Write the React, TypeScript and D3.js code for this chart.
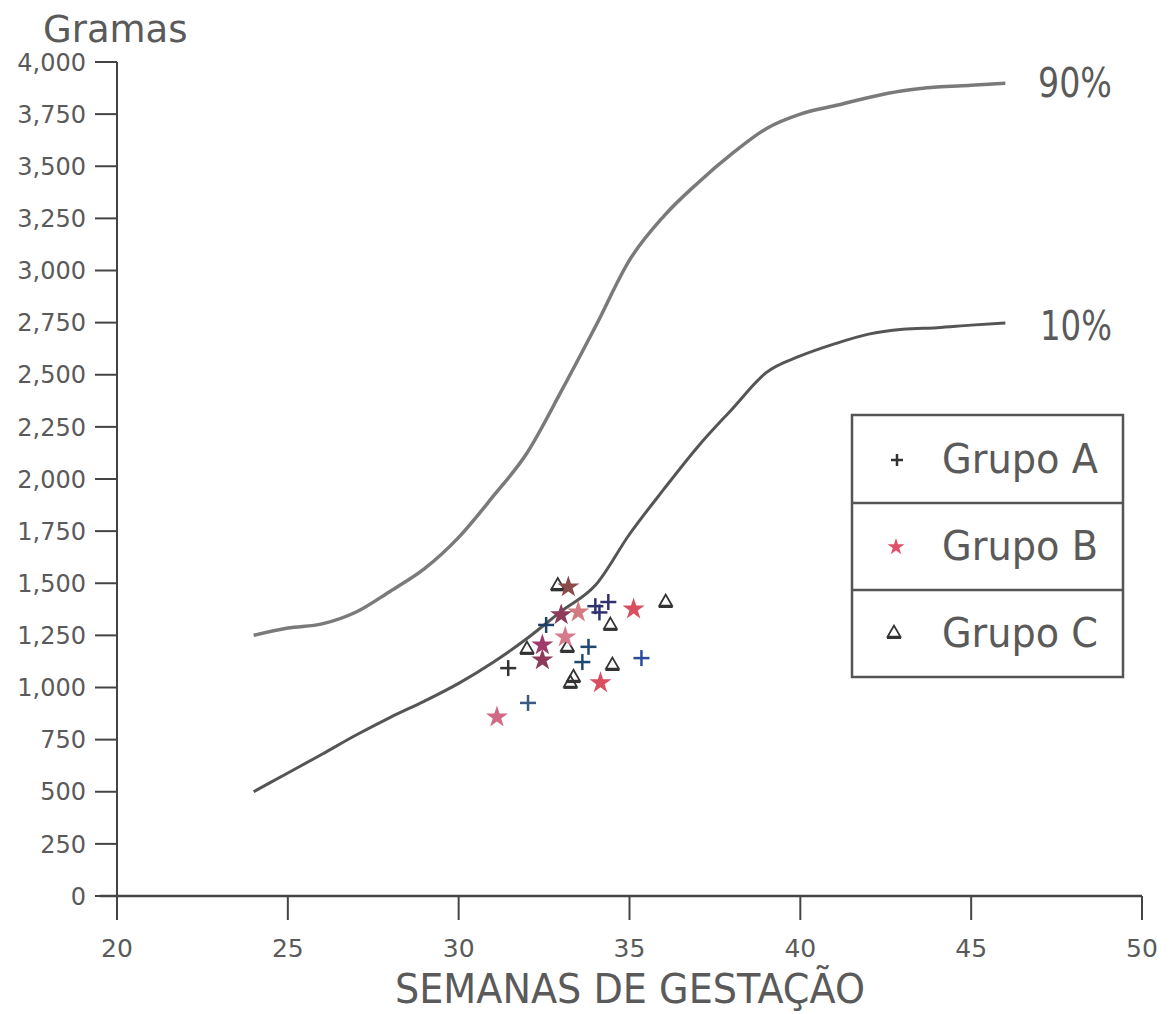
import React from "react";
import * as d3 from "d3";

// Percentile curves: birth weight (g) by gestational age (weeks)
const weeks = [24, 25, 26, 27, 28, 29, 30, 31, 32, 33, 34, 35, 36, 37, 38, 39, 40, 41, 42, 43, 44, 45, 46];
const p90 = [1250, 1285, 1305, 1362, 1462, 1570, 1720, 1915, 2125, 2420, 2730, 3050, 3260, 3420, 3560, 3680, 3750, 3790, 3830, 3862, 3880, 3888, 3898];
const p10 = [500, 590, 680, 772, 857, 935, 1020, 1120, 1235, 1365, 1490, 1735, 1950, 2155, 2335, 2510, 2590, 2648, 2695, 2718, 2726, 2738, 2748];

// Observed newborns: [weeks, grams]
const grupoA: [number, number][] = [
  [31.45, 1093], [32.03, 926], [32.56, 1300], [33.62, 1122], [35.35, 1141],
  [34.0, 1390], [34.12, 1360], [34.38, 1410], [33.8, 1195],
];
const grupoB: [number, number][] = [
  [33.21, 1482], [33.5, 1362], [35.12, 1376], [34.15, 1022], [32.45, 1132],
  [31.12, 858], [33.0, 1348], [33.12, 1242], [32.45, 1204],
];
const grupoC: [number, number][] = [
  [36.06, 1410], [34.44, 1300], [33.18, 1194], [32.0, 1185], [34.5, 1108],
  [33.36, 1050], [33.27, 1022], [32.9, 1490],
];

const xTicks = [20, 25, 30, 35, 40, 45, 50];
const yTicks = [0, 250, 500, 750, 1000, 1250, 1500, 1750, 2000, 2250, 2500, 2750, 3000, 3250, 3500, 3750, 4000];
const legendLabels = ["Grupo A", "Grupo B", "Grupo C"];

// Ink tones of the plotted marks
const inkA = ["#333333", "#3a5a80", "#1e3f66", "#1e4a70", "#2a4a9a", "#2e3370", "#2e3370", "#34306e", "#1e4a70"];
const inkB = ["#8c4b4b", "#d27a80", "#d94f5f", "#d94f5f", "#8e3a5a", "#d06a85", "#8e3a5a", "#d77a8c", "#a03a6a"];
const inkC = "#333333";

const FONT = "'DejaVu Sans', sans-serif";
const TEXT = "#5a5a5a";

const x = d3.scaleLinear().domain([20, 50]).range([117, 1142]);
const y = d3.scaleLinear().domain([0, 4000]).range([896, 62]);

const line = d3
  .line<number>()
  .x((_, i) => x(weeks[i]))
  .y((v) => y(v))
  .curve(d3.curveMonotoneX);

const star = d3.symbol().type(d3.symbolStar).size(150)();
const legendStar = d3.symbol().type(d3.symbolStar).size(90)();
const tri = d3.symbol().type(d3.symbolTriangle).size(70)();

function Plus({ cx, cy, color, s = 8 }: { cx: number; cy: number; color: string; s?: number }) {
  return (
    <g stroke={color} strokeWidth={2.5}>
      <line x1={cx - s} x2={cx + s} y1={cy} y2={cy} />
      <line x1={cx} x2={cx} y1={cy - s} y2={cy + s} />
    </g>
  );
}

function Tri({ cx, cy, color }: { cx: number; cy: number; color: string }) {
  return (
    <g transform={`translate(${cx},${cy})`}>
      <path d={tri} fill="none" stroke={color} strokeWidth={1.8} />
      <line x1={-7} x2={7} y1={5} y2={5} stroke={color} strokeWidth={2} />
    </g>
  );
}

export default function App() {
  const fmt = d3.format(",");
  return (
    <svg width={1176} height={1014} style={{ display: "block", position: "absolute", left: 0, top: 0, background: "#fff" }}>
      {/* axis titles */}
      <text x={43} y={42} fontFamily={FONT} fontSize={37} fill={TEXT}>
        Gramas
      </text>
      <text x={395} y={1003} fontFamily={FONT} fontSize={40} fill={TEXT} textLength={470} lengthAdjust="spacingAndGlyphs">
        SEMANAS DE GESTAÇÃO
      </text>

      {/* y axis */}
      <line x1={117} x2={117} y1={y(4000)} y2={905} stroke="#444" strokeWidth={2} />
      {yTicks.map((t) => (
        <g key={t}>
          <line x1={95} x2={117} y1={y(t)} y2={y(t)} stroke="#444" strokeWidth={2} />
          <text x={86} y={y(t)} dy="0.36em" textAnchor="end" fontFamily={FONT} fontSize={24} fill={TEXT}>
            {fmt(t)}
          </text>
        </g>
      ))}

      {/* x axis */}
      <line x1={100} x2={x(50)} y1={y(0)} y2={y(0)} stroke="#444" strokeWidth={2.5} />
      {xTicks.map((t) => (
        <g key={t}>
          <line x1={x(t)} x2={x(t)} y1={y(0)} y2={y(0) + 24} stroke="#444" strokeWidth={2} />
          <text x={x(t)} y={957} textAnchor="middle" fontFamily={FONT} fontSize={25} fill={TEXT}>
            {t}
          </text>
        </g>
      ))}

      {/* percentile curves */}
      <path d={line(p90) ?? ""} fill="none" stroke="#7a7a7a" strokeWidth={3.5} />
      <path d={line(p10) ?? ""} fill="none" stroke="#555" strokeWidth={3} />
      <text x={1038} y={97} fontFamily={FONT} fontSize={40} fill={TEXT} textLength={74} lengthAdjust="spacingAndGlyphs">
        90%
      </text>
      <text x={1040} y={340} fontFamily={FONT} fontSize={40} fill={TEXT} textLength={72} lengthAdjust="spacingAndGlyphs">
        10%
      </text>

      {/* observations */}
      {grupoC.map(([w, g], i) => (
        <Tri key={`c${i}`} cx={x(w)} cy={y(g)} color={inkC} />
      ))}
      {grupoB.map(([w, g], i) => (
        <path key={`b${i}`} d={star ?? ""} transform={`translate(${x(w)},${y(g)})`} fill={inkB[i % inkB.length]} />
      ))}
      {grupoA.map(([w, g], i) => (
        <Plus key={`a${i}`} cx={x(w)} cy={y(g)} color={inkA[i % inkA.length]} />
      ))}

      {/* legend */}
      <g>
        <rect x={852} y={415} width={271} height={262} fill="none" stroke="#555" strokeWidth={2.5} />
        <line x1={852} x2={1123} y1={503} y2={503} stroke="#555" strokeWidth={2.5} />
        <line x1={852} x2={1123} y1={590} y2={590} stroke="#555" strokeWidth={2.5} />
        <Plus cx={897} cy={460} color="#333" s={6} />
        <path d={legendStar ?? ""} transform="translate(896,547)" fill="#e0506a" />
        <Tri cx={894} cy={633} color="#333" />
        {legendLabels.map((l, i) => (
          <text key={l} x={942} y={473 + i * 87} fontFamily={FONT} fontSize={40} fill={TEXT} textLength={156} lengthAdjust="spacingAndGlyphs">
            {l}
          </text>
        ))}
      </g>
    </svg>
  );
}
